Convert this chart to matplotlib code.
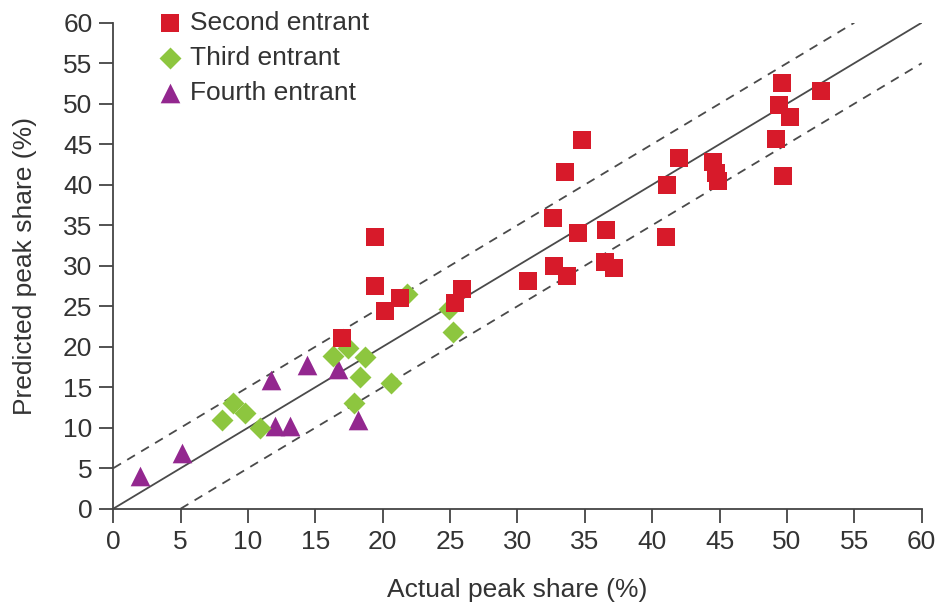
import numpy as np
import matplotlib.pyplot as plt

plt.rcParams['font.family'] = ['Liberation Sans', 'DejaVu Sans']

########## Data ##########
second_x = [49.6, 52.5, 49.4, 50.2, 49.2, 49.7, 34.8, 33.5, 42.0, 44.5, 44.7, 44.9,
            41.1, 41.0, 32.6, 34.5, 36.6, 32.7, 33.7, 36.5, 37.2, 30.8,
            19.4, 19.4, 20.2, 21.3, 25.9, 25.4, 17.0]
second_y = [52.6, 51.6, 49.8, 48.3, 45.6, 41.1, 45.5, 41.6, 43.3, 42.8, 41.5, 40.4,
            40.0, 33.6, 35.9, 34.0, 34.4, 30.0, 28.7, 30.5, 29.7, 28.1,
            33.5, 27.5, 24.4, 26.0, 27.1, 25.4, 21.1]

third_x = [8.1, 8.9, 9.8, 10.9, 16.3, 17.4, 18.7, 18.3, 17.9, 20.6, 21.8, 24.9, 25.2]
third_y = [10.9, 13.0, 11.8, 10.0, 18.8, 19.9, 18.7, 16.2, 13.0, 15.5, 26.5, 24.7, 21.8]

fourth_x = [2.0, 5.1, 11.7, 14.4, 16.7, 12.0, 13.1, 18.2]
fourth_y = [4.0, 6.9, 15.9, 17.7, 17.3, 10.2, 10.2, 10.9]

ticks = np.arange(0, 61, 5)

########## Plot ##########
fig = plt.figure(figsize=(9.4, 6.09), dpi=100)
ax = fig.add_axes([0.1205, 0.1647, 0.86, 0.798])

line_col = '#4a4a4a'
ax.plot([0, 60], [0, 60], color=line_col, lw=1.3, zorder=1)
ax.plot([0, 55], [5, 60], color=line_col, lw=1.3, ls=(0, (5, 4)), zorder=1)
ax.plot([5, 60], [0, 55], color=line_col, lw=1.3, ls=(0, (5, 4)), zorder=1)

ax.scatter(fourth_x, fourth_y, marker='^', s=200, color='#93278f', lw=0, zorder=2,
           label='Fourth entrant')
ax.scatter(third_x, third_y, marker='D', s=125, color='#8dc63f', lw=0, zorder=3,
           label='Third entrant')
ax.scatter(second_x, second_y, marker='s', s=150, color='#d71a2a', lw=0, zorder=4,
           label='Second entrant')

ax.set_xlim(0, 60)
ax.set_ylim(0, 60)
ax.set_xticks(ticks)
ax.set_yticks(ticks)
ax.tick_params(axis='both', direction='out', length=10, width=1.3, color='#444444',
               labelsize=19, labelcolor='#333333', pad=5)
for side in ['top', 'right']:
    ax.spines[side].set_visible(False)
for side in ['left', 'bottom']:
    ax.spines[side].set_color('#444444')
    ax.spines[side].set_linewidth(1.3)

ax.set_xlabel('Actual peak share (%)', fontsize=19, color='#333333')
ax.set_ylabel('Predicted peak share (%)', fontsize=19, color='#333333')
ax.xaxis.set_label_coords(0.5, -0.143)
ax.yaxis.set_label_coords(-0.094, 0.5)

handles, labels = ax.get_legend_handles_labels()
leg = ax.legend(handles[::-1], labels[::-1], loc='upper left', bbox_to_anchor=(0.054, 1.024),
                frameon=False, fontsize=19, handlelength=1.0, handletextpad=0.27,
                labelspacing=0.42, borderaxespad=0, borderpad=0, scatterpoints=1)
for t in leg.get_texts():
    t.set_color('#333333')

fig.savefig('out.png', dpi=100)
